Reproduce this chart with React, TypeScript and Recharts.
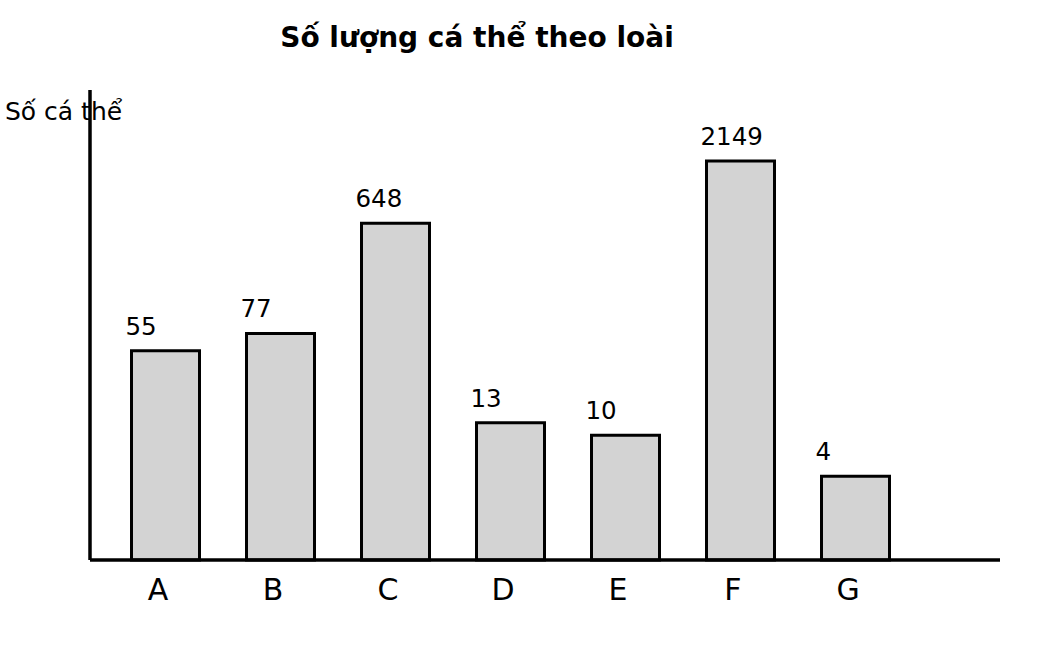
import { BarChart, Bar, XAxis, YAxis, LabelList } from 'recharts';

const species = ['A', 'B', 'C', 'D', 'E', 'F', 'G'];
const counts = [55, 77, 648, 13, 10, 2149, 4];

// bar heights follow log10(count + 1)
const data = species.map((name, i) => ({
  name,
  count: counts[i],
  h: Math.log10(counts[i] + 1),
}));

const font = '"DejaVu Sans", sans-serif';

const ValueLabel = (props: any) => {
  const { x, y, value } = props;
  return (
    <text x={x - 6} y={y - 16} textAnchor="start" fontSize={24.5} fontFamily={font} fill="#000">
      {value}
    </text>
  );
};

const Tick = (props: any) => {
  const { x, y, payload } = props;
  return (
    <text x={x - 7} y={y + 32} textAnchor="middle" fontSize={30} fontFamily={font} fill="#000">
      {payload.value}
    </text>
  );
};

export default function App() {
  return (
    <div style={{ position: 'fixed', left: 0, top: 0, width: 1050, height: 650, background: '#fff', fontFamily: font }}>
      <BarChart
        width={1050}
        height={650}
        data={data}
        margin={{ top: 90, right: 50, bottom: 30, left: 89 }}
      >
        <XAxis
          dataKey="name"
          height={60}
          tickLine={false}
          tick={<Tick />}
          padding={{ left: 17.5, right: 87.5 }}
          axisLine={{ stroke: '#000', strokeWidth: 3.5 }}
          interval={0}
        />
        <YAxis
          width={1}
          domain={[0, 3.925]}
          tick={false}
          tickLine={false}
          axisLine={{ stroke: '#000', strokeWidth: 3.5 }}
        />
        <Bar dataKey="h" barSize={68} fill="#d3d3d3" stroke="#000" strokeWidth={3} isAnimationActive={false}>
          <LabelList dataKey="count" content={<ValueLabel />} />
        </Bar>
      </BarChart>
      <div
        style={{
          position: 'absolute',
          left: 0,
          width: 954,
          top: 21,
          textAlign: 'center',
          fontSize: 28,
          fontWeight: 'bold',
          color: '#000',
        }}
      >
        Số lượng cá thể theo loài
      </div>
      <div style={{ position: 'absolute', left: 5, top: 97, fontSize: 25, color: '#000' }}>Số cá thể</div>
    </div>
  );
}
